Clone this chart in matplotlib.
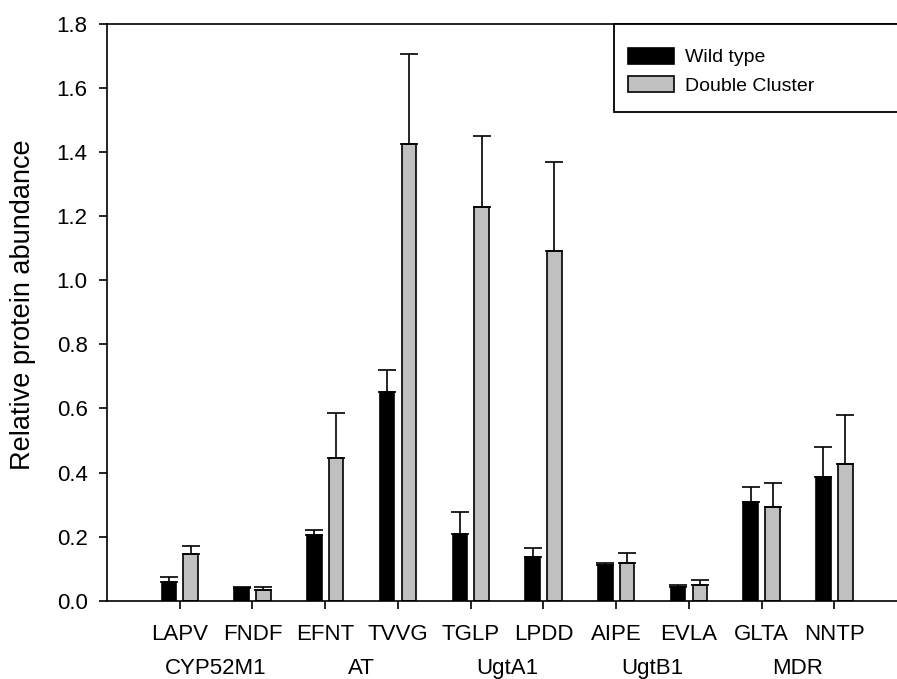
import matplotlib.pyplot as plt
import matplotlib.transforms as mtransforms
from matplotlib.patches import Rectangle
import numpy as np

plt.rcParams['font.family'] = ['Liberation Sans', 'DejaVu Sans']

# peptides on the x axis, grouped by protein
peptides = ["LAPV", "FNDF", "EFNT", "TVVG", "TGLP", "LPDD", "AIPE", "EVLA", "GLTA", "NNTP"]
proteins = ["CYP52M1", "AT", "UgtA1", "UgtB1", "MDR"]

wild_type = [0.057, 0.039, 0.204, 0.651, 0.209, 0.136, 0.112, 0.042, 0.308, 0.386]
wild_err = [0.016, 0.003, 0.017, 0.068, 0.068, 0.030, 0.007, 0.007, 0.047, 0.095]
double_cluster = [0.147, 0.033, 0.445, 1.425, 1.230, 1.091, 0.119, 0.048, 0.293, 0.426]
double_err = [0.024, 0.011, 0.140, 0.283, 0.219, 0.279, 0.029, 0.017, 0.074, 0.154]

yticks = [0.0, 0.2, 0.4, 0.6, 0.8, 1.0, 1.2, 1.4, 1.6, 1.8]

fig = plt.figure(figsize=(8.97, 6.79), dpi=100)
# axes run past the right edge of the picture, like the cropped original
ax = fig.add_axes([0.1193, 0.1153, 0.892, 0.8493])

x = np.arange(len(peptides))
w = 0.2
err_kw = dict(ecolor="black", elinewidth=1.2, capsize=6.5, capthick=1.2)

b1 = ax.bar(x - 0.15, wild_type, w, color="black", edgecolor="black", linewidth=1.2,
            yerr=[np.zeros(len(x)), wild_err], error_kw=err_kw, label="Wild type")
b2 = ax.bar(x + 0.15, double_cluster, w, color="#c0c0c0", edgecolor="black", linewidth=1.2,
            yerr=[np.zeros(len(x)), double_err], error_kw=err_kw, label="Double Cluster")

ax.set_xlim(-1, 10)
ax.set_ylim(0, 1.8)
ax.set_yticks(yticks)
ax.set_yticklabels([f"{v:.1f}" for v in yticks])
ax.set_xticks(x)
ax.set_xticklabels(peptides)

for side in ["left", "top", "bottom", "right"]:
    ax.spines[side].set_linewidth(1.2)
    ax.spines[side].set_color("black")

ax.tick_params(axis="x", length=6, width=1.2, pad=11, labelsize=16)
ax.tick_params(axis="y", length=6, width=1.2, pad=8, labelsize=16)

ax.set_ylabel("Relative protein abundance", fontsize=19.5, va="center")
ax.yaxis.set_label_coords(-0.105, 0.514)

# protein names under each pair of peptides
trans = mtransforms.blended_transform_factory(ax.transData, ax.transAxes)
for i, name in enumerate(proteins):
    ax.text(2 * i + 0.5, -0.1167, name, transform=trans, ha="center", va="center",
            fontsize=16)

# legend box is wider than its contents and runs off the right edge
ax.add_patch(Rectangle((0.634, 0.8474), 0.5, 0.1526, transform=ax.transAxes,
                       facecolor="white", edgecolor="black", linewidth=1.3,
                       clip_on=False, zorder=4))
leg = ax.legend(handles=[b1, b2], loc="upper left", bbox_to_anchor=(0.651, 0.959),
                borderaxespad=0, borderpad=0, frameon=False, fontsize=14,
                handlelength=2.37, handleheight=0.9, handletextpad=0.57,
                labelspacing=0.5)
leg.set_zorder(5)

fig.savefig("out.png", dpi=100)
